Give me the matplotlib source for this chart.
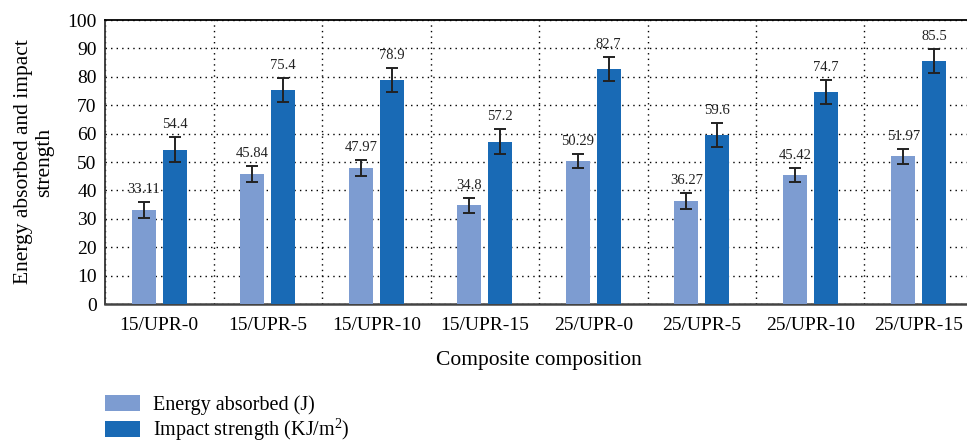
"""Energy absorbed and impact strength per composite composition."""
import matplotlib
matplotlib.use("Agg")
import matplotlib.pyplot as plt
import numpy as np

plt.rcParams["font.family"] = ["Liberation Serif", "DejaVu Serif"]
plt.rcParams["mathtext.fontset"] = "custom"
plt.rcParams["mathtext.rm"] = "Liberation Serif"
plt.rcParams["mathtext.it"] = "Liberation Serif:italic"

compositions = ["15/UPR-0", "15/UPR-5", "15/UPR-10", "15/UPR-15",
                "25/UPR-0", "25/UPR-5", "25/UPR-10", "25/UPR-15"]
energy = [33.11, 45.84, 47.97, 34.8, 50.29, 36.27, 45.42, 51.97]
energy_err = [2.8, 2.8, 2.8, 2.7, 2.5, 2.8, 2.5, 2.7]
impact = [54.4, 75.4, 78.9, 57.2, 82.7, 59.6, 74.7, 85.5]
impact_err = [4.4, 4.3, 4.3, 4.4, 4.3, 4.3, 4.3, 4.3]

light, dark = "#7d9cd1", "#196ab5"

fig = plt.figure(figsize=(9.67, 4.42), dpi=100)
ax = fig.add_axes([0.1086, 0.3122, 0.8976, 0.6425])

x = np.arange(len(compositions))
off, w = 0.142, 0.22
err_kw = dict(ecolor="#222222", elinewidth=1.4, capsize=4.5, capthick=1.4)
ax.bar(x - off, energy, w, yerr=energy_err, color=light,
       label="Energy absorbed (J)", error_kw=err_kw, zorder=3)
ax.bar(x + off, impact, w, yerr=impact_err, color=dark,
       label="Impact strength (KJ/m$^2$)", error_kw=err_kw, zorder=3)

for xi, v, e in zip(x - off, energy, energy_err):
    ax.text(xi, v + e + 2, f"{v:g}", ha="center", va="bottom",
            fontsize=10.5, color="#222222", zorder=4)
for xi, v, e in zip(x + off, impact, impact_err):
    ax.text(xi, v + e + 2, f"{v:g}", ha="center", va="bottom",
            fontsize=10.5, color="#222222", zorder=4)

ax.set_xlim(-0.5, 7.5)
ax.set_ylim(0, 100)
ax.set_yticks(range(0, 101, 10))
ax.set_xticks(x)
ax.set_xticklabels(compositions)
ax.set_xticks(np.arange(-0.5, 8, 0.5), minor=True)
ax.tick_params(axis="both", which="both", length=0, labelsize=14)
ax.tick_params(axis="x", pad=9)
ax.tick_params(axis="y", pad=6)

ax.grid(axis="y", linestyle=(0, (1, 3)), color="black", linewidth=1, zorder=0)
ax.grid(axis="x", which="minor", linestyle=(0, (1, 3)), color="black",
        linewidth=1, zorder=0)

ax.spines["right"].set_visible(False)
ax.spines["top"].set_linewidth(1.3)
ax.spines["left"].set_linewidth(1.3)
ax.spines["left"].set_color("#333333")
ax.spines["bottom"].set_linewidth(1.8)
ax.spines["bottom"].set_color("#444444")

ax.set_ylabel("Energy absorbed and impact\nstrength", fontsize=15.5,
              linespacing=1.15)
ax.yaxis.set_label_coords(-0.059, 0.5)
ax.set_xlabel("Composite composition", fontsize=15.5)
ax.xaxis.set_label_coords(0.5, -0.165)

fig.legend(loc="upper left", bbox_to_anchor=(0.1086, 0.106), frameon=False,
           fontsize=14.5, handlelength=1.74, handleheight=0.85,
           labelspacing=0.08, handletextpad=0.64, borderaxespad=0,
           borderpad=0)

fig.savefig("out.png", dpi=100)
